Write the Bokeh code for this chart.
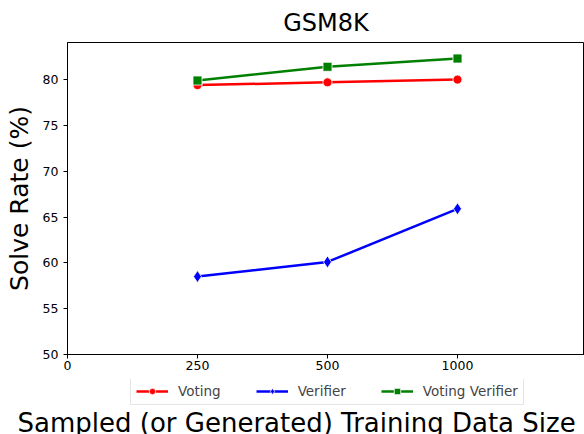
from bokeh.plotting import figure
from bokeh.models import Range1d, Legend, LegendItem, FixedTicker, Label
from bokeh.embed import file_html
from bokeh.resources import INLINE

x_labels = ["0", "250", "500", "1000"]
sizes = ["250", "500", "1000"]
voting = [79.4, 79.7, 80.0]
verifier = [58.5, 60.1, 65.9]
voting_verifier = [79.9, 81.4, 82.3]
y_ticks = [50, 55, 60, 65, 70, 75, 80]
series_names = ["Voting", "Verifier", "Voting Verifier"]
colors = ["red", "blue", "green"]
markers = ["circle", "diamond", "square"]
marker_sizes = [9, 12, 9]
title_text = "GSM8K"
x_title = "Sampled (or Generated) Training Data Size"
y_title = "Solve Rate (%)"

FONT = "DejaVu Sans"
xs = [x_labels.index(s) for s in sizes]
series = [voting, verifier, voting_verifier]

p = figure(width=584, height=379, output_backend="svg", toolbar_location=None,
           x_range=Range1d(0, 3.977), y_range=Range1d(50, 84.05),
           min_border_left=67, min_border_right=0, min_border_top=0, min_border_bottom=25)
p.title.text = title_text
p.title.text_font = FONT
p.title.text_font_size = "24px"
p.title.text_font_style = "normal"
p.title.text_color = "black"
p.title.align = "center"
p.title.standoff = 12

p.grid.visible = False
p.outline_line_color = "black"
p.outline_line_alpha = 1
p.outline_line_width = 1

for ax in (p.xaxis, p.yaxis):
    ax.axis_line_color = "black"
    ax.major_tick_line_color = "black"
    ax.minor_tick_line_color = None
    ax.major_tick_out = 4
    ax.major_tick_in = 0
    ax.major_label_text_font = FONT
    ax.major_label_text_font_size = "12.5px"
    ax.major_label_text_color = "black"
    ax.axis_label_text_font = FONT
    ax.axis_label_text_font_size = "25px"
    ax.axis_label_text_font_style = "normal"
    ax.axis_label_text_color = "black"

p.xaxis.ticker = FixedTicker(ticks=list(range(len(x_labels))))
p.xaxis.major_label_overrides = {i: l for i, l in enumerate(x_labels)}
p.xaxis.major_label_standoff = 2
p.yaxis.ticker = FixedTicker(ticks=y_ticks)
p.yaxis.axis_label = y_title
p.yaxis.axis_label_standoff = 6

for ys, color, marker, size in zip(series, colors, markers, marker_sizes):
    p.line(xs, ys, line_color=color, line_width=2.5)
    p.scatter(xs, ys, marker=marker, size=size, fill_color=color,
              line_color="white", line_width=0.8)

# second strip: legend + x axis title
p2 = figure(width=584, height=55, output_backend="svg", toolbar_location=None,
            title=None, x_axis_type=None, y_axis_type=None,
            x_range=Range1d(0, 1), y_range=Range1d(0, 1),
            min_border=0, min_border_left=0, min_border_right=0,
            min_border_top=0, min_border_bottom=0)
p2.grid.visible = False
p2.outline_line_color = None

items = []
for ys, name, color, marker, size in zip(series, series_names, colors, markers, marker_sizes):
    # same data, outside this strip's view: only the legend glyphs show
    l = p2.line(xs, ys, line_color=color, line_width=2.5)
    s = p2.scatter(xs, ys, marker=marker, size=size, fill_color=color,
                   line_color="white", line_width=0.8)
    items.append(LegendItem(label=name, renderers=[l, s]))

legend = Legend(items=items, orientation="horizontal", location=(130, 29),
                label_text_font=FONT, label_text_font_size="13.5px",
                glyph_width=32, glyph_height=16, label_height=16,
                spacing=35, padding=5, margin=0,
                border_line_color="#cccccc", border_line_width=1,
                label_standoff=10)
p2.add_layout(legend, "center")

p2.add_layout(Label(x=17, y=12, x_units="screen", y_units="screen", text=x_title,
                    text_font=FONT, text_font_size="26px", text_color="black",
                    text_baseline="alphabetic", text_align="left"))

open("out.html", "w").write(file_html([p, p2], INLINE))
